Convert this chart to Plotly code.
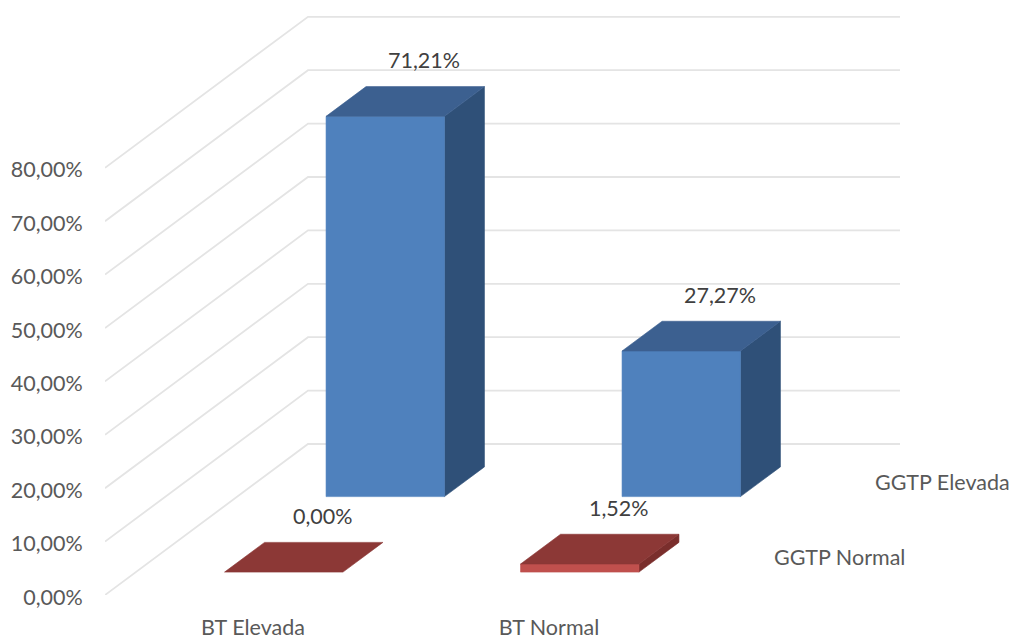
import plotly.graph_objects as go

categories = ["BT Elevada", "BT Normal"]
series_names = ["GGTP Normal", "GGTP Elevada"]
ggtp_normal = [0.00, 1.52]
ggtp_elevada = [71.21, 27.27]
value_labels_normal = ["0,00%", "1,52%"]
value_labels_elevada = ["71,21%", "27,27%"]
grid_values = [0, 10, 20, 30, 40, 50, 60, 70, 80]
grid_labels = ["0,00%", "10,00%", "20,00%", "30,00%", "40,00%", "50,00%", "60,00%", "70,00%", "80,00%"]

# Oblique projection: x axis in category units, y axis in percent units
W, H = 1015, 642
LEFT, BOTTOM = 105, 47
PX_CAT = 296.0
PX_PCT = 5.34
DEPTH_X = 203 / PX_CAT
DEPTH_Y = 151 / PX_PCT
BAR_W = 0.40
BAR_D = 0.197


def proj(c, d, v):
    return c + d * DEPTH_X, v + d * DEPTH_Y


def poly(fig, pts, fill, line=None):
    xs, ys = zip(*[proj(*p) for p in pts])
    fig.add_trace(go.Scatter(
        x=list(xs) + [xs[0]], y=list(ys) + [ys[0]], mode="lines", fill="toself",
        fillcolor=fill, line=dict(color=line or fill, width=0.6),
        hoverinfo="skip", showlegend=False))


fig = go.Figure()

# walls
GRID = "#E4E4E4"
for v in grid_values:
    pts = [proj(0, 0, v), proj(0, 1, v), proj(2, 1, v)]
    fig.add_trace(go.Scatter(x=[p[0] for p in pts], y=[p[1] for p in pts], mode="lines",
                             line=dict(color=GRID, width=1.8), hoverinfo="skip", showlegend=False))


def bar(fig, cat_i, d_center, v, front, side, top):
    c0 = cat_i + 0.5 - BAR_W / 2
    c1 = c0 + BAR_W
    d0 = d_center - BAR_D / 2
    d1 = d_center + BAR_D / 2
    if v > 0:
        poly(fig, [(c1, d0, 0), (c1, d1, 0), (c1, d1, v), (c1, d0, v)], side)
        poly(fig, [(c0, d0, 0), (c1, d0, 0), (c1, d0, v), (c0, d0, v)], front)
    poly(fig, [(c0, d0, v), (c1, d0, v), (c1, d1, v), (c0, d1, v)], top)


annotations = []
FS = 21.5
FONT = "Lato"


def value_label(cat_i, d_center, v, text):
    x, y = proj(cat_i + 0.5, d_center, v)
    annotations.append(dict(x=x, y=y, text=text, showarrow=False, xshift=19, yshift=41,
                            font=dict(color="#404040", size=FS)))


for i, v in enumerate(ggtp_elevada):
    bar(fig, i, 0.75, v, "#4F81BD", "#2F5078", "#3C6090")
    value_label(i, 0.75, v, value_labels_elevada[i])
for i, v in enumerate(ggtp_normal):
    bar(fig, i, 0.25, v, "#C0504D", "#7A2E2C", "#8C3836")
    value_label(i, 0.25, v, value_labels_normal[i])

for name, d in zip(series_names, [0.25, 0.75]):
    x, y = proj(2, d, 0)
    annotations.append(dict(x=x, y=y, text=name, showarrow=False, xanchor="left", xshift=24,
                            font=dict(color="#595959", size=FS)))

fig.update_layout(
    width=W, height=H, autosize=False,
    margin=dict(l=LEFT, r=0, t=0, b=BOTTOM),
    paper_bgcolor="white", plot_bgcolor="white",
    font=dict(family=FONT, size=FS, color="#595959"),
    showlegend=False,
    annotations=annotations,
    xaxis=dict(range=[0, (W - LEFT) / PX_CAT], tickmode="array", tickvals=[0.5, 1.5],
               ticktext=categories, showgrid=False, zeroline=False, showline=False,
               ticks="outside", ticklen=13, tickcolor="rgba(0,0,0,0)", tickfont=dict(size=FS, color="#595959")),
    yaxis=dict(range=[0, (H - BOTTOM) / PX_PCT], tickmode="array", tickvals=grid_values,
               ticktext=grid_labels, showgrid=False, zeroline=False, showline=False,
               ticklabelshift=2,
               ticks="outside", ticklen=17, tickcolor="rgba(0,0,0,0)", tickfont=dict(size=FS, color="#595959")),
)

fig.write_html("out.html", config={"displayModeBar": False},
               post_script="document.body.style.margin='0';document.body.style.overflow='hidden';")
